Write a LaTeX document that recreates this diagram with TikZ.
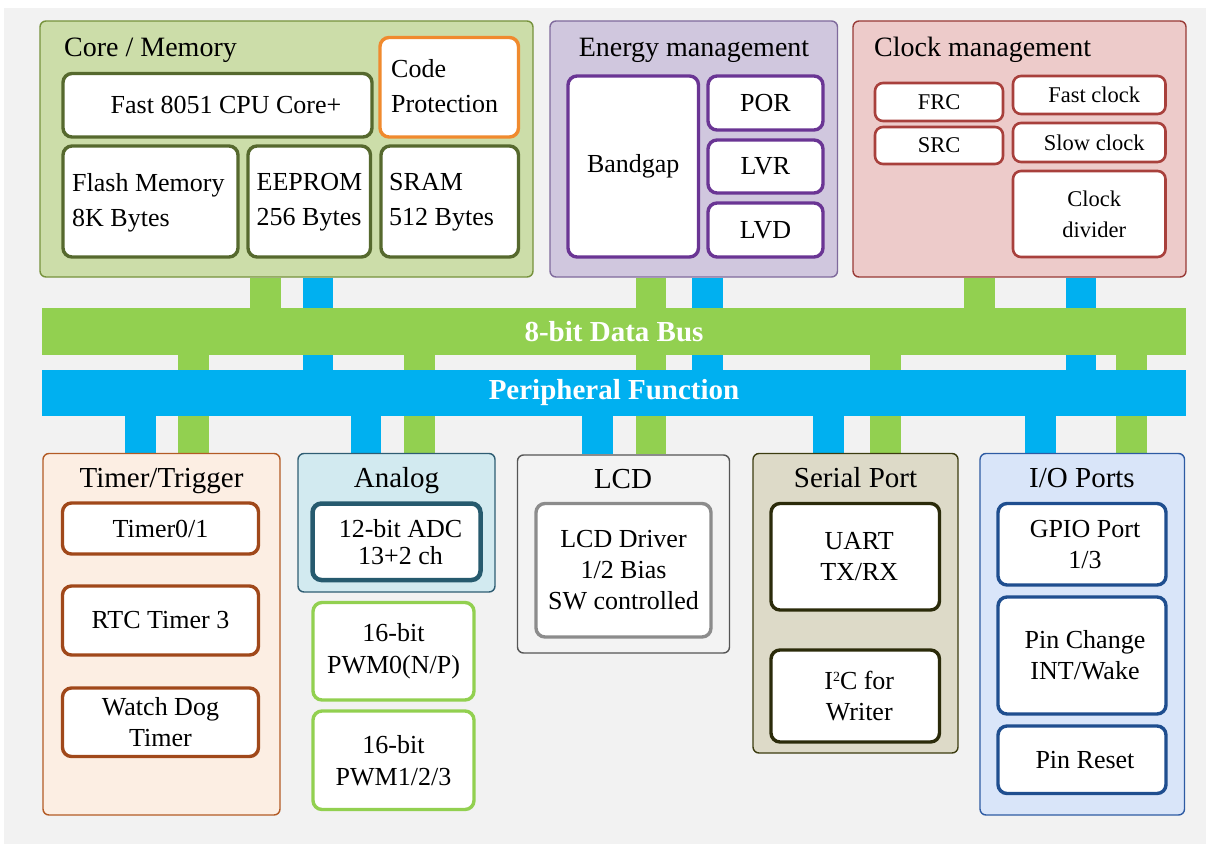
\documentclass[tikz,border=0pt]{standalone}
\usepackage{fontspec}
\setmainfont{Liberation Serif}
\pgfdeclarelayer{back}
\pgfdeclarelayer{conn}
\pgfsetlayers{back,conn,main}
\definecolor{bgc}{HTML}{F2F2F2}
\definecolor{busG}{HTML}{92D050}
\definecolor{busB}{HTML}{00B0F0}
\definecolor{coreFill}{HTML}{CCDDA9}
\definecolor{coreLine}{HTML}{76923C}
\definecolor{coreIn}{HTML}{56692E}
\definecolor{orangeLine}{HTML}{F08A2E}
\definecolor{enFill}{HTML}{D0C7DE}
\definecolor{enLine}{HTML}{7F6A9C}
\definecolor{enIn}{HTML}{6A3594}
\definecolor{clkFill}{HTML}{EDCBCA}
\definecolor{clkLine}{HTML}{983A36}
\definecolor{clkIn}{HTML}{A8403C}
\definecolor{tmFill}{HTML}{FCEEE3}
\definecolor{tmLine}{HTML}{B35B25}
\definecolor{tmIn}{HTML}{A0481A}
\definecolor{anFill}{HTML}{D2EAF0}
\definecolor{anLine}{HTML}{2F5D73}
\definecolor{anIn}{HTML}{265A6E}
\definecolor{pwmLine}{HTML}{92D050}
\definecolor{lcdFill}{HTML}{F3F3F3}
\definecolor{lcdLine}{HTML}{555555}
\definecolor{lcdIn}{HTML}{8C8C8C}
\definecolor{spFill}{HTML}{DDDAC8}
\definecolor{spLine}{HTML}{3C3C10}
\definecolor{spIn}{HTML}{2B2B0A}
\definecolor{ioFill}{HTML}{D9E5F9}
\definecolor{ioLine}{HTML}{2E5BA3}
\definecolor{ioIn}{HTML}{1F4E8F}
% style, x1, y1, x2, y2, name, text
\newcommand\blk[7]{%
  \pgfmathsetmacro\blkW{#4-#2}\pgfmathsetmacro\blkH{#5-#3}%
  \pgfmathsetmacro\blkX{(#2+#4)/2}\pgfmathsetmacro\blkY{(#3+#5)/2}%
  \node[#1, minimum width=\blkW pt, minimum height=\blkH pt] (#6) at (\blkX,\blkY) {#7};}
\begin{document}
\begin{tikzpicture}[x=1pt,y=-1pt,
  outbox/.style={draw, line width=1.4pt, rounded corners=6pt, inner sep=0pt},
  inbox/.style={draw, fill=white, line width=3.4pt, rounded corners=9pt, inner sep=0pt, align=center, font=\fontsize{26}{31}\selectfont},
  clkfont/.style={line width=2.6pt, rounded corners=8pt, font=\fontsize{22.5}{31}\selectfont},
  ttl/.style={anchor=base, inner sep=0pt, font=\fontsize{28}{32}\selectfont},
  ttlb/.style={anchor=base, inner sep=0pt, font=\fontsize{29}{32}\selectfont},
  lbl/.style={inner sep=0pt, align=left, font=\fontsize{26}{35}\selectfont},
  gconn/.style={draw=busG, line width=30.5pt},
  bconn/.style={draw=busB, line width=30.5pt},
  busbar/.style={fill=#1, inner sep=0pt, text=white, font=\bfseries\fontsize{29}{32}\selectfont}]
\useasboundingbox (0,0) rectangle (1206,845);
\begin{pgfonlayer}{back}
\fill[white] (0,0) rectangle (1206,845);
\fill[bgc] (4,8) rectangle (1206,844);
\end{pgfonlayer}

% buses
\blk{busbar=busG}{42}{308}{1186}{355}{dbus}{8-bit Data Bus}
\blk{busbar=busB}{42}{370}{1186}{415.5}{pbus}{Peripheral Function}

% Core / Memory
\blk{outbox, fill=coreFill, draw=coreLine}{40}{21}{533}{277}{core}{}
\node[ttl, anchor=base west] (coreT) at (64,57) {Core / Memory};
\blk{inbox, draw=coreIn}{63}{73.5}{372}{137}{cpu}{}
\node[lbl] (cpuT) at (226,105) {Fast 8051 CPU Core+};
\blk{inbox, draw=orangeLine}{380}{37.5}{518.5}{137}{prot}{}
\node[lbl, anchor=west] (protT) at (391,86.5) {Code\\Protection};
\blk{inbox, draw=coreIn}{63}{146}{238}{257}{flash}{}
\node[lbl, anchor=west] (flashT) at (72,202.5) {Flash Memory\\8K Bytes};
\blk{inbox, draw=coreIn}{248}{146}{370.5}{257}{eeprom}{}
\node[lbl, anchor=west] (eepromT) at (256.5,202.5) {EEPROM\\256 Bytes};
\blk{inbox, draw=coreIn}{381}{146}{518.5}{257}{sram}{}
\node[lbl, anchor=west] (sramT) at (389,202.5) {SRAM\\512 Bytes};

% Energy management
\blk{outbox, fill=enFill, draw=enLine}{550}{21}{837.5}{277}{energy}{}
\node[ttl] (energyT) at (694,57) {Energy management};
\blk{inbox, draw=enIn}{568}{76}{698.5}{257}{bandgap}{Bandgap}
\blk{inbox, draw=enIn}{708}{76}{823}{130}{por}{POR}
\blk{inbox, draw=enIn}{708}{140}{823}{193}{lvr}{LVR}
\blk{inbox, draw=enIn}{708}{203}{823}{257}{lvd}{LVD}

% Clock management
\blk{outbox, fill=clkFill, draw=clkLine}{853}{21}{1186}{277}{clock}{}
\node[ttl, anchor=base west] (clockT) at (874,57) {Clock management};
\blk{inbox, clkfont, draw=clkIn}{875}{83}{1003}{121}{frc}{FRC}
\blk{inbox, clkfont, draw=clkIn}{875}{127}{1003}{164}{src}{SRC}
\blk{inbox, clkfont, draw=clkIn}{1013}{76}{1165.5}{114}{fast}{\hspace*{10pt}Fast clock}
\blk{inbox, clkfont, draw=clkIn}{1013}{123}{1165.5}{162}{slow}{\hspace*{10pt}Slow clock}
\blk{inbox, clkfont, draw=clkIn}{1013}{171}{1165.5}{257}{div}{\hspace*{10pt}Clock\\\hspace*{10pt}divider}

% Timer / Trigger
\blk{outbox, fill=tmFill, draw=tmLine}{43}{453.5}{280}{815}{timer}{}
\node[ttlb] (timerT) at (161.5,487) {Timer/Trigger};
\blk{inbox, draw=tmIn}{62.5}{503}{258.5}{554}{t01}{Timer0/1}
\blk{inbox, draw=tmIn}{62.5}{586}{258.5}{655}{rtc}{RTC Timer 3}
\blk{inbox, draw=tmIn}{62.5}{688}{258.5}{756.5}{wdt}{Watch Dog\\Timer}

% Analog
\blk{outbox, fill=anFill, draw=anLine}{298}{453.5}{495}{592}{analog}{}
\node[ttlb] (analogT) at (396.5,487) {Analog};
\blk{inbox, draw=anIn, line width=4.5pt, font=\fontsize{26}{27}\selectfont}{312.5}{503.5}{480.5}{580}{adc}{\hspace*{8pt}12-bit ADC\\\hspace*{8pt}13+2 ch}
\blk{inbox, draw=pwmLine, font=\fontsize{26}{32}\selectfont}{313}{602.5}{474}{700}{pwm0}{16-bit\\PWM0(N/P)}
\blk{inbox, draw=pwmLine, font=\fontsize{26}{32}\selectfont}{313}{711}{474}{809.5}{pwm1}{16-bit\\PWM1/2/3}

% LCD
\blk{outbox, fill=lcdFill, draw=lcdLine}{517.5}{455}{729.5}{653}{lcd}{}
\node[ttlb] (lcdT) at (623,488) {LCD};
\blk{inbox, draw=lcdIn}{536}{503.5}{711}{637}{lcdd}{LCD Driver\\1/2 Bias\\SW controlled}

% Serial Port
\blk{outbox, fill=spFill, draw=spLine}{753}{453.5}{958}{753}{serial}{}
\node[ttlb] (serialT) at (855.5,487) {Serial Port};
\blk{inbox, draw=spIn}{771}{503.5}{939.5}{610}{uart}{\hspace*{8pt}UART\\\hspace*{8pt}TX/RX}
\blk{inbox, draw=spIn}{771}{650}{939.5}{742}{i2c}{\hspace*{8pt}I\raisebox{8pt}{\fontsize{14}{14}\selectfont 2}C for\\\hspace*{8pt}Writer}

% I/O Ports
\blk{outbox, fill=ioFill, draw=ioLine}{980}{453.5}{1184.5}{815}{io}{}
\node[ttlb] (ioT) at (1082,487) {I/O Ports};
\blk{inbox, draw=ioIn}{998}{503.5}{1166}{585}{gpio}{\hspace*{6pt}GPIO Port\\\hspace*{6pt}1/3}
\blk{inbox, draw=ioIn}{998}{597}{1166}{714}{pinc}{\hspace*{6pt}Pin Change\\\hspace*{6pt}INT/Wake}
\blk{inbox, draw=ioIn}{998}{726}{1166}{793.5}{pinr}{\hspace*{6pt}Pin Reset}

% connectors
\begin{pgfonlayer}{conn}
\foreach \x/\a/\b in {265.5/core/dbus, 193.5/dbus/timer, 419.5/dbus/analog, 651/energy/lcd, 885.5/dbus/serial, 979.5/clock/dbus, 1131.5/dbus/io}
  {\coordinate (cx) at (\x,0); \draw[gconn] (\a.south -| cx) -- (\b.north -| cx);}
\foreach \x/\a/\b in {318/core/pbus, 707.5/energy/pbus, 1081/clock/pbus, 140.5/pbus/timer, 366/pbus/analog, 597.5/pbus/lcd, 828.5/pbus/serial, 1040.5/pbus/io}
  {\coordinate (cx) at (\x,0); \draw[bconn] (\a.south -| cx) -- (\b.north -| cx);}
\end{pgfonlayer}
\end{tikzpicture}
\end{document}
